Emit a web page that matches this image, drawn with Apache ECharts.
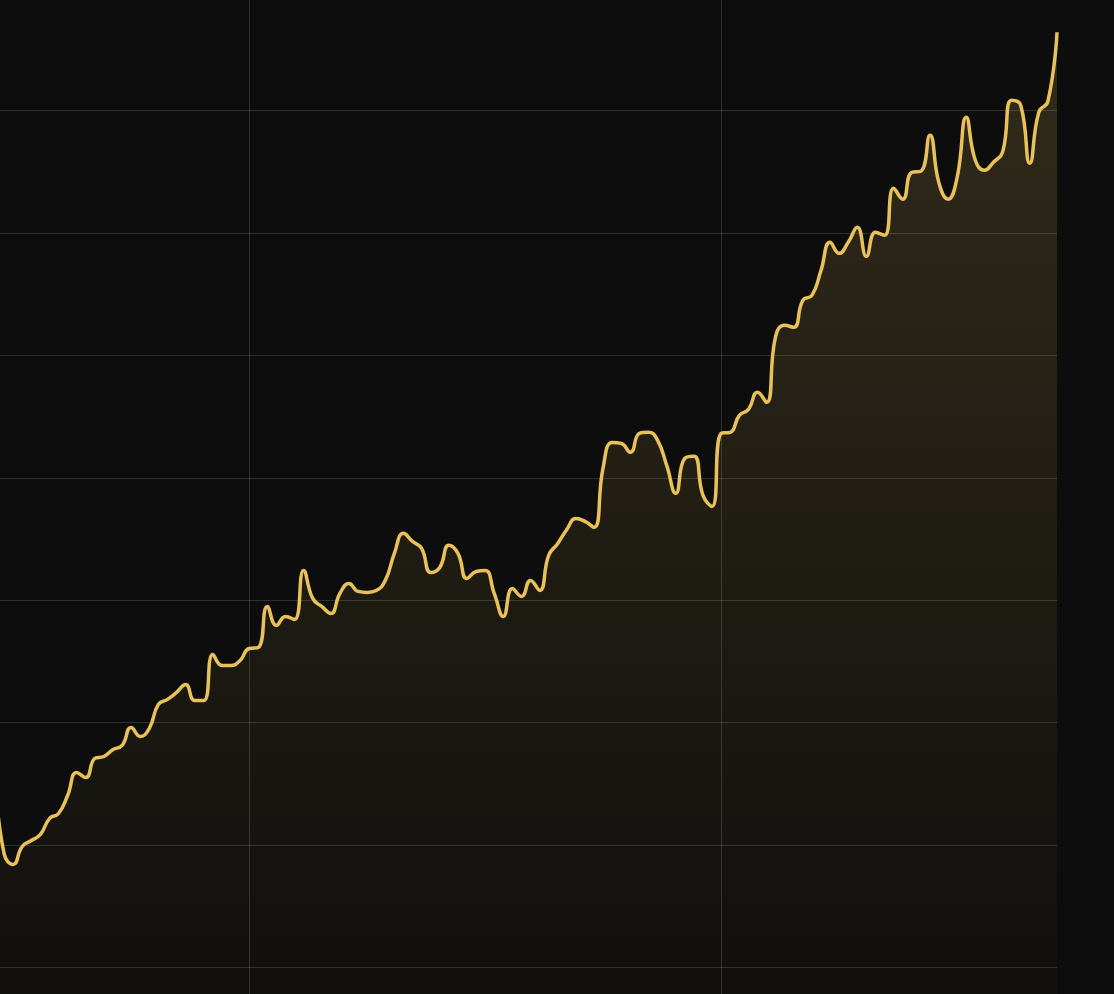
<!DOCTYPE html>
<html>
<head>
<meta charset="utf-8">
<script src="https://cdn.jsdelivr.net/npm/echarts@6/dist/echarts.min.js"></script>
<style>
  html, body { margin: 0; padding: 0; background: #0d0d0d; overflow: hidden; width: 1114px; height: 994px; }
  #chart { position: absolute; left: -5.4px; top: -12.4px; width: 1119.4px; height: 1101.8px; }
</style>
</head>
<body>
<div id="chart"></div>
<script>
// Weekly observations; first category is the week of 2021-06-20
const startDate = '2021-06-20';
const values = [
  25.60, 19.30, 18.42, 19.89, 20.38, 20.87, 22.17, 22.58, 24.05, 25.93,
  25.52, 27.08, 27.24, 27.81, 28.14, 29.61, 28.87, 29.53, 31.49, 31.90,
  32.47, 33.12, 31.81, 31.81, 35.57, 34.67, 34.67, 35.08, 36.06, 36.14,
  39.49, 37.94, 38.68, 38.43, 42.43, 40.15, 39.49, 38.92, 40.56, 41.37,
  40.72, 40.64, 40.80, 41.62, 43.82, 45.46, 44.80, 44.23, 42.27, 42.68,
  44.48, 43.82, 41.78, 42.35, 42.43, 40.56, 38.68, 40.96, 40.31, 41.62,
  40.80, 43.66, 44.64, 45.78, 46.68, 46.44, 45.95, 50.85, 52.89, 52.81,
  52.08, 53.63, 53.71, 53.06, 51.01, 48.73, 51.59, 51.75, 48.56, 47.66,
  53.63, 53.71, 55.10, 55.59, 56.98, 56.16, 61.55, 62.45, 62.29, 64.49,
  64.90, 66.94, 69.23, 68.33, 69.23, 70.46, 68.09, 70.05, 69.80, 73.64,
  72.75, 74.95, 75.03, 77.97, 74.05, 72.75, 74.54, 79.44, 75.93, 75.11,
  75.77, 76.58, 80.83, 80.42, 75.69, 79.85, 80.75, 86.39
];
const yTicks = [0, 10, 20, 30, 40, 50, 60, 70, 80, 90];

// build weekly date categories
const categories = [];
{
  const d0 = new Date(startDate + 'T00:00:00Z');
  for (let i = 0; i < values.length; i++) {
    const d = new Date(d0.getTime() + i * 7 * 86400000);
    categories.push(d.toISOString().slice(0, 10));
  }
}
const yearStart = new Set();
for (let i = 1; i < categories.length; i++) {
  if (categories[i].slice(0, 4) !== categories[i - 1].slice(0, 4)) yearStart.add(i);
}

const gridColor = 'rgba(255,255,255,0.14)';
const lineColor = '#E8C15A';

const chart = echarts.init(document.getElementById('chart'), null, { renderer: 'canvas' });
chart.setOption({
  backgroundColor: '#0d0d0d',
  animation: false,
  grid: { left: 0, right: 57, top: 0, bottom: 0, containLabel: false },
  xAxis: {
    type: 'category',
    data: categories,
    boundaryGap: false,
    axisLine: { show: false },
    axisTick: { show: false },
    axisLabel: { show: false },
    splitLine: {
      show: true,
      interval: function (idx) { return yearStart.has(idx); },
      lineStyle: { color: gridColor, width: 1 }
    }
  },
  yAxis: {
    type: 'value',
    min: yTicks[0],
    max: yTicks[yTicks.length - 1],
    interval: yTicks[1] - yTicks[0],
    axisLine: { show: false },
    axisTick: { show: false },
    axisLabel: { show: false },
    splitLine: { show: true, lineStyle: { color: gridColor, width: 1 } }
  },
  series: [{
    type: 'line',
    data: values,
    smooth: true,
    symbol: 'none',
    clip: true,
    lineStyle: { color: lineColor, width: 3.5 },
    areaStyle: {
      color: new echarts.graphic.LinearGradient(0, 0, 0, 1, [
        { offset: 0, color: 'rgba(232,193,90,0.24)' },
        { offset: 1, color: 'rgba(232,193,90,0.0)' }
      ])
    }
  }]
});
</script>
</body>
</html>
